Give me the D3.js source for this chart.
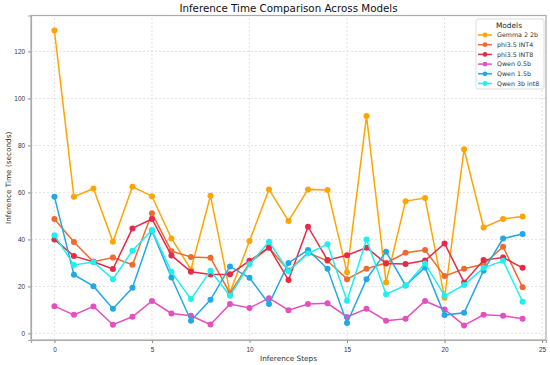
<!DOCTYPE html>
<html>
<head>
<meta charset="utf-8">
<script src="https://cdn.jsdelivr.net/npm/d3@7"></script>
<style>
  body { margin: 0; background: #fff; }
  svg { font-family: "DejaVu Sans", sans-serif; }
  .tick text { fill: #333; font-size: 6.4px; }
  .tick line { stroke: #888; }
  .domain { stroke: #aaa; stroke-width: 1.2px; }
</style>
</head>
<body>
<svg id="chart" width="550" height="365"></svg>
<script>
// Data
var steps = d3.range(25);
var models = ["Gemma 2 2b", "phi3.5 INT4", "phi3.5 INT8", "Qwen 0.5b", "Qwen 1.5b", "Qwen 3b int8"];
var colors = ["#ffa500", "#ee6a2f", "#e8294a", "#e64fc0", "#22a8e6", "#1ef0f0"];

var gemma = [128.9, 58.2, 61.7, 39.0, 62.4, 58.4, 40.4, 27.2, 58.6, 17.4, 39.3, 61.3, 47.8, 61.3, 61.0, 26.0, 92.5, 21.7, 56.3, 57.6, 15.2, 78.4, 45.1, 48.7, 49.8];
var phiInt4 = [48.7, 38.9, 30.5, 32.3, 29.2, 51.1, 35.0, 32.5, 32.2, 17.0, 30.0, 36.5, 26.8, 34.3, 30.9, 23.1, 27.5, 30.0, 34.3, 35.5, 24.4, 27.5, 29.4, 36.9, 19.6];
var phiInt8 = [40.0, 32.9, 30.5, 27.4, 44.7, 48.7, 33.2, 26.2, 25.1, 25.2, 30.9, 36.6, 22.7, 45.4, 31.2, 33.3, 36.5, 29.8, 29.5, 31.0, 38.3, 21.7, 31.2, 32.3, 27.9];
var qwen05 = [11.6, 7.9, 11.5, 3.7, 7.1, 13.8, 8.5, 7.5, 3.8, 12.5, 10.8, 15.0, 9.9, 12.5, 12.8, 7.0, 10.5, 5.4, 6.2, 13.8, 10.2, 3.4, 7.9, 7.5, 6.2];
var qwen15 = [58.2, 25.0, 20.1, 10.5, 19.4, 43.7, 23.8, 5.4, 14.3, 28.5, 23.7, 12.5, 30.0, 35.5, 27.5, 4.4, 23.1, 34.8, 20.4, 28.1, 7.8, 8.8, 26.7, 40.4, 42.3];
var qwen3 = [41.8, 29.1, 30.4, 23.1, 35.2, 44.0, 26.2, 14.6, 26.7, 16.0, 29.4, 39.0, 26.5, 34.0, 38.0, 13.9, 40.0, 16.7, 20.4, 29.8, 16.0, 20.6, 27.9, 30.9, 13.5];

var xTicks = [0, 5, 10, 15, 20, 25];
var yTicks = [0, 20, 40, 60, 80, 100, 120];

var series = [gemma, phiInt4, phiInt8, qwen05, qwen15, qwen3];

// Layout
var margin = {left: 31, right: 4, top: 15.5, bottom: 25};
var width = 550, height = 365;

var svg = d3.select("#chart");

var x = d3.scaleLinear()
    .domain([-1.2, 25.2])
    .range([margin.left, width - margin.right]);

var y = d3.scaleLinear()
    .domain([-2.8, 135.3])
    .range([height - margin.bottom, margin.top]);

// Grid
svg.append("g")
    .selectAll("line.gx")
    .data(xTicks)
    .enter().append("line")
    .attr("x1", function(d) { return x(d); })
    .attr("x2", function(d) { return x(d); })
    .attr("y1", y.range()[0])
    .attr("y2", y.range()[1])
    .attr("stroke", "#d6d6d6")
    .attr("stroke-width", 0.7)
    .attr("stroke-dasharray", "2,2");

svg.append("g")
    .selectAll("line.gy")
    .data(yTicks)
    .enter().append("line")
    .attr("x1", x.range()[0])
    .attr("x2", x.range()[1])
    .attr("y1", function(d) { return y(d); })
    .attr("y2", function(d) { return y(d); })
    .attr("stroke", "#d6d6d6")
    .attr("stroke-width", 0.7)
    .attr("stroke-dasharray", "2,2");

// Axes
svg.append("g")
    .attr("transform", "translate(0," + y.range()[0] + ")")
    .call(d3.axisBottom(x).tickValues(xTicks).tickSize(3).tickPadding(4));

svg.append("g")
    .attr("transform", "translate(" + x.range()[0] + ",0)")
    .call(d3.axisLeft(y).tickValues(yTicks).tickSize(3).tickPadding(3));

// top / right spines
svg.append("rect")
    .attr("x", x.range()[0])
    .attr("y", y.range()[1])
    .attr("width", x.range()[1] - x.range()[0])
    .attr("height", y.range()[0] - y.range()[1])
    .attr("fill", "none")
    .attr("stroke", "#aaa")
    .attr("stroke-width", 1.2);

// Lines
var line = d3.line()
    .x(function(d, i) { return x(steps[i]); })
    .y(function(d) { return y(d); });

series.forEach(function(s, k) {
    var g = svg.append("g");
    g.append("path")
        .datum(s)
        .attr("d", line)
        .attr("fill", "none")
        .attr("stroke", colors[k])
        .attr("stroke-width", 1.5);
    g.selectAll("circle")
        .data(s)
        .enter().append("circle")
        .attr("cx", function(d, i) { return x(steps[i]); })
        .attr("cy", function(d) { return y(d); })
        .attr("r", 3)
        .attr("fill", colors[k]);
});

// Title and labels
svg.append("text")
    .attr("x", (x.range()[0] + x.range()[1]) / 2)
    .attr("y", 12)
    .attr("text-anchor", "middle")
    .style("font-size", "10.3px")
    .style("fill", "#111")
    .text("Inference Time Comparison Across Models");

svg.append("text")
    .attr("x", (x.range()[0] + x.range()[1]) / 2)
    .attr("y", 360.5)
    .attr("text-anchor", "middle")
    .style("font-size", "7.3px")
    .style("fill", "#333")
    .text("Inference Steps");

svg.append("text")
    .attr("transform", "translate(11," + ((y.range()[0] + y.range()[1]) / 2) + ")rotate(-90)")
    .attr("text-anchor", "middle")
    .style("font-size", "7.3px")
    .style("fill", "#333")
    .text("Inference Time (seconds)");

// Legend
var legend = svg.append("g");
legend.append("rect")
    .attr("x", 476)
    .attr("y", 19)
    .attr("width", 68)
    .attr("height", 70)
    .attr("rx", 2)
    .attr("fill", "#fff")
    .attr("fill-opacity", 0.85)
    .attr("stroke", "#ddd");

legend.append("text")
    .attr("x", 509)
    .attr("y", 27.5)
    .attr("text-anchor", "middle")
    .style("font-size", "7.4px")
    .style("fill", "#222")
    .text("Models");

var item = legend.selectAll(".legenditem")
    .data(models)
    .enter().append("g")
    .attr("class", "legenditem")
    .attr("transform", function(d, i) { return "translate(0," + (35 + i * 9.7) + ")"; });

item.append("line")
    .attr("x1", 478)
    .attr("x2", 492)
    .attr("stroke", function(d, i) { return colors[i]; })
    .attr("stroke-width", 1.5);

item.append("circle")
    .attr("cx", 485)
    .attr("r", 2.4)
    .attr("fill", function(d, i) { return colors[i]; });

item.append("text")
    .attr("x", 497)
    .attr("y", 2.3)
    .style("font-size", "6.3px")
    .style("fill", "#333")
    .text(function(d) { return d; });
</script>
</body>
</html>
